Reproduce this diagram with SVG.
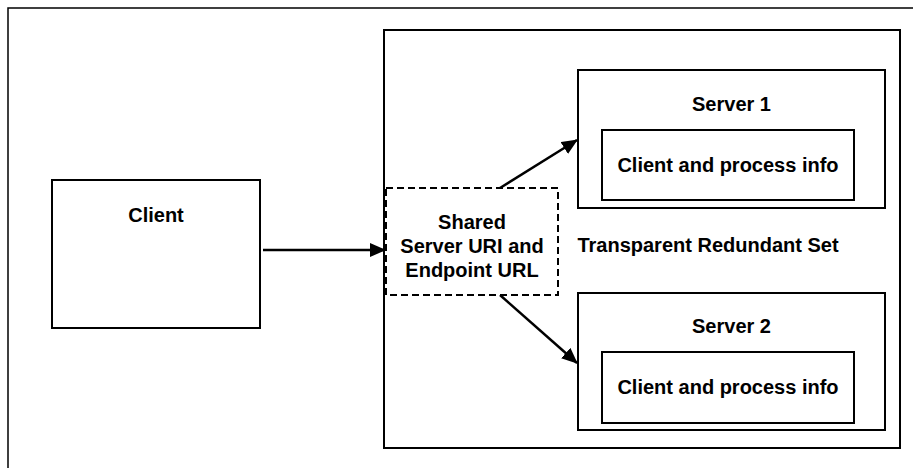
<svg xmlns="http://www.w3.org/2000/svg" width="913" height="468" viewBox="0 0 913 468">
<style>
.box{fill:#fff;stroke:#000;stroke-width:2}
.dash{fill:#fff;stroke:#000;stroke-width:2;stroke-dasharray:7,4}
.t{font-family:"Liberation Sans",Arial,sans-serif;font-weight:bold;font-size:20px;fill:#000;text-anchor:middle}
.c{stroke:#000;stroke-width:2.5;fill:none}
</style>
<defs>
<marker id="ah" markerWidth="16" markerHeight="14" refX="15" refY="7" orient="auto" markerUnits="userSpaceOnUse">
<path d="M0,0 L16,7 L0,14 Z" fill="#000"/>
</marker>
</defs>
<rect x="0" y="0" width="913" height="468" fill="#fff"/>
<g id="frame"><rect x="8" y="8" width="930" height="480" fill="none" stroke="#000" stroke-width="1.5"/></g>
<g id="trs">
<rect class="box" x="384" y="30" width="516" height="418"/>
<text class="t" x="708" y="252">Transparent Redundant Set</text>
</g>
<g id="client">
<rect class="box" x="52" y="180" width="208" height="148"/>
<text class="t" x="156" y="222">Client</text>
</g>
<g id="server1">
<rect class="box" x="578" y="70" width="307" height="138"/>
<text class="t" x="731.5" y="111">Server 1</text>
<g id="info1">
<rect class="box" x="602" y="130" width="252" height="70"/>
<text class="t" x="728" y="172">Client and process info</text>
</g>
</g>
<g id="server2">
<rect class="box" x="578" y="293" width="307" height="137"/>
<text class="t" x="731.5" y="333">Server 2</text>
<g id="info2">
<rect class="box" x="602" y="352" width="252" height="71"/>
<text class="t" x="728" y="394">Client and process info</text>
</g>
</g>
<g id="shared">
<rect class="dash" x="386" y="188" width="172" height="107"/>
<text class="t" x="472" y="229">Shared</text>
<text class="t" x="472" y="253">Server URI and</text>
<text class="t" x="472" y="277">Endpoint URL</text>
</g>
<g id="connectors">
<line class="c" x1="263" y1="250" x2="385" y2="250" marker-end="url(#ah)"/>
<line class="c" x1="500" y1="188" x2="577" y2="140" marker-end="url(#ah)"/>
<line class="c" x1="500" y1="295" x2="577" y2="363" marker-end="url(#ah)"/>
</g>
</svg>
